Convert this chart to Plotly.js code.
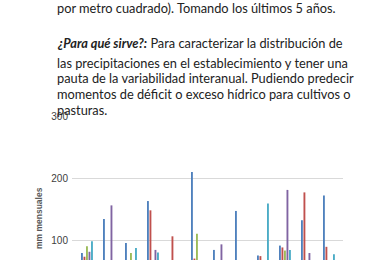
<!DOCTYPE html>
<html>
<head>
<meta charset="utf-8">
<script src="https://cdn.plot.ly/plotly-3.0.1.min.js"></script>
<style>
html,body{margin:0;padding:0;background:#fff;}
#chart{width:370px;height:260px;}
</style>
</head>
<body>
<div id="chart"></div>
<script>
// Data (mm mensuales) — last 5 years, monthly
const months = ["Ene","Feb","Mar","Abr","May","Jun","Jul","Ago","Sep","Oct","Nov","Dic"];
const seriesNames = ["Año 1","Año 2","Año 3","Año 4","Año 5"];
const year1 = [79, 134, 95, 163, 50, 210, 84, 147, 75, 91, 132, 172];
const year2 = [73, 40, 30, 148, 106, 70, 20, 25, 74, 88, 177, 89];
const year3 = [90, 45, 79, 55, 30, 110, 15, 20, 40, 83, 60, 50];
const year4 = [81, 156, 35, 84, 40, 35, 93, 30, 45, 181, 79, 55];
const year5 = [98, 50, 87, 80, 35, 25, 20, 30, 159, 84, 60, 77];
const yTicks = [100, 200, 300];

const colors = ["#4F81BD","#C0504D","#9BBB59","#8064A2","#4BACC6"];
const allSeries = [year1, year2, year3, year4, year5];

const traces = allSeries.map((vals, i) => ({
  type: "bar",
  x: months.map((m, j) => j),
  y: vals,
  name: seriesNames[i],
  marker: {color: colors[i], line: {width: 0}},
  hoverinfo: "skip"
}));

const L = 72, R = 343, T = 116, B = 260;
const pw = R - L, ph = B - T;
const px = x => (x - L) / pw;
const py = y => (B - y) / ph;

const textFont = {family: "Lato, 'Open Sans', sans-serif", size: 12.8, color: "#222"};
const lines = [
  {t: "por metro cuadrado). Tomando los últimos 5 años.", y: 8},
  {t: "<b><i>¿Para qué sirve?:</i></b> Para caracterizar la distribución de", y: 43},
  {t: "las precipitaciones en el establecimiento y tener una", y: 63},
  {t: "pauta de la variabilidad interanual. Pudiendo predecir", y: 78.5},
  {t: "momentos de déficit o exceso hídrico para cultivos o", y: 94},
  {t: "pasturas.", y: 110}
];

const annotations = lines.map(l => ({
  xref: "paper", yref: "paper",
  x: px(55), y: py(l.y),
  xanchor: "left", yanchor: "middle",
  text: l.t, showarrow: false, font: textFont
}));

annotations.push({
  xref: "paper", yref: "paper",
  x: px(39), y: py(218),
  xanchor: "center", yanchor: "middle",
  text: "<b>mm mensuales</b>", textangle: -90, showarrow: false,
  font: {family: "Liberation Sans, Arial, sans-serif", size: 8.5, color: "#595959"}
});

const layout = {
  width: 370, height: 260,
  margin: {l: L, r: 370 - R, t: T, b: 0, pad: 0},
  paper_bgcolor: "#fff", plot_bgcolor: "rgba(0,0,0,0)",
  showlegend: false,
  barmode: "group",
  bargap: 0.43,
  bargroupgap: 0.25,
  xaxis: {
    range: [-0.68, 11.64],
    showticklabels: false, showgrid: false, zeroline: false, showline: false, ticks: ""
  },
  yaxis: {
    range: [67.7, 300.5],
    tickvals: yTicks,
    ticktext: yTicks.map(String),
    showgrid: true, gridcolor: "#D9D9D9", gridwidth: 1,
    zeroline: false, showline: false, ticks: "",
    ticklabelstandoff: 3,
    tickfont: {family: "Liberation Sans, Arial, sans-serif", size: 10, color: "#404040"}
  },
  annotations: annotations
};

Plotly.newPlot("chart", traces, layout, {displayModeBar: false, staticPlot: true});
</script>
</body>
</html>
